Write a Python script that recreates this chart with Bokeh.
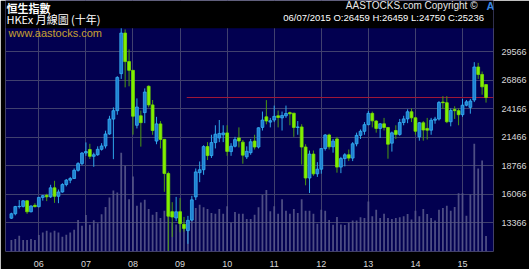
import pandas as pd
from bokeh.plotting import figure
from bokeh.models import ColumnDataSource, Range1d, FixedTicker, Label, BoxAnnotation
from bokeh.embed import file_html
from bokeh.resources import INLINE

# ---------------- data ----------------
months = [str(p) for p in pd.period_range("2005-06", "2015-07", freq="M")]

opens = [13780, 14200, 14880, 14900, 15430, 14390, 15000,
         14876, 15753, 15950, 15805, 16661, 15857, 16267, 16971, 17392, 17543, 18324, 18960,
         19965, 20300, 19650, 19801, 20318, 20635, 21773, 23185, 23984, 27500, 31352, 28643,
         27813, 22600, 23500, 23800, 26300, 24533, 21100, 22731, 21261, 18016, 14400, 13800,
         14400, 13200, 12600, 13600, 15800, 18100, 18379, 20573, 19724, 20955, 21400, 21700,
         21873, 20100, 20608, 21400, 21000, 19600, 20000, 21100, 20536, 22400, 23400, 22900,
         23100, 23500, 23300, 23500, 23800, 23750, 22398, 22441, 20535, 17592, 19864, 17989,
         18434, 20390, 21680, 20556, 21300, 18630, 19441, 19800, 19482, 20840, 21642, 22030,
         22657, 23730, 23000, 22300, 22737, 22392, 20900, 22100, 21731, 22860, 23206, 23881,
         23306, 21500, 22837, 22300, 22134, 23082, 23191, 24800, 24742, 22933, 24100, 23987,
         23605, 24507, 24300, 25000, 28133, 27424, 26459]
highs = [14300, 14950, 15500, 15500, 15500, 15000, 15200,
         15800, 15990, 16100, 16950, 17328, 16500, 17100, 17500, 17700, 18500, 19100, 20050,
         20971, 20841, 20000, 20600, 20900, 22085, 23500, 24300, 27254, 31958, 31700, 29800,
         27850, 25150, 24000, 26100, 26387, 25000, 23400, 23000, 21300, 18200, 15300, 15800,
         15700, 13900, 14000, 15900, 18500, 19161, 20700, 21000, 21700, 22600, 23100, 22600,
         22600, 20900, 21500, 22400, 21200, 20600, 21300, 21700, 22400, 23900, 24988, 23300,
         24468, 24000, 23900, 24468, 23900, 23750, 23000, 22700, 20800, 20200, 20200, 19100,
         20400, 21760, 21800, 21300, 21500, 19600, 19950, 20300, 21000, 21900, 22200, 22900,
         23950, 23900, 23100, 22800, 23300, 22400, 22000, 22600, 23200, 23500, 24111, 24200,
         23400, 22900, 23000, 23300, 23300, 23400, 24900, 25362, 25362, 24200, 24400, 24200,
         25100, 25000, 25100, 28588, 28524, 27700, 26459]
lows = [13700, 14050, 14700, 14800, 14189, 14330, 14800,
        14800, 15450, 15400, 15700, 15234, 15204, 16200, 16800, 17100, 17500, 18200, 18800,
        19700, 19400, 18659, 19700, 20200, 20400, 21700, 19386, 23600, 27000, 26200, 26300,
        21709, 22300, 20572, 22800, 24300, 21700, 20800, 20400, 16283, 10676, 12000, 13500,
        12430, 12500, 11344, 13500, 15500, 17200, 17900, 19300, 19500, 20400, 21000, 21000,
        19700, 19700, 20500, 20500, 18950, 19400, 19800, 20300, 20400, 22100, 22690, 22400,
        22900, 22400, 22100, 23300, 22600, 21500, 21700, 18868, 16900, 16170, 17800, 17700,
        18000, 20200, 20300, 20000, 18100, 18056, 18700, 19200, 19200, 20600, 21300, 21700,
        22600, 22400, 21900, 21400, 22100, 19426, 20100, 21300, 21600, 22600, 22800, 22900,
        21700, 21138, 21137, 21250, 21700, 22750, 23050, 24150, 22800, 22500, 23200, 22600,
        23400, 24400, 23700, 24800, 27000, 25500, 24750]
closes = [14201, 14880, 14903, 15429, 14386, 14937, 14876,
          15753, 15918, 15805, 16661, 15857, 16267, 16971, 17392, 17543, 18324, 18960, 19965,
          20106, 19651, 19801, 20318, 20635, 21773, 23185, 23984, 27143, 31352, 28643, 27813,
          23456, 24332, 22849, 25755, 24533, 22102, 22731, 21261, 18016, 13969, 13888, 14387,
          13278, 12811, 13576, 15521, 18171, 18379, 20573, 19724, 20955, 21753, 21822, 21873,
          20122, 20608, 21239, 21108, 19765, 20129, 21030, 20536, 22359, 23096, 23008, 23035,
          23447, 23338, 23528, 23720, 23684, 22398, 22441, 20535, 17592, 19864, 17989, 18434,
          20390, 21680, 20556, 21094, 18630, 19441, 19796, 19482, 20840, 21642, 22030, 22657,
          23730, 23020, 22300, 22737, 22392, 20803, 21883, 21731, 22860, 23206, 23881, 23306,
          22035, 22837, 22151, 22134, 23082, 23191, 24757, 24742, 22933, 23998, 23987, 23605,
          24507, 24823, 24901, 28133, 27424, 26250, 25236]
volumes = [11.7, 12.7, 16, 11.7, 11.7, 12.7, 11.7,
           16.7, 19.3, 21, 19.3, 21, 19.3, 15, 17, 19.3, 22, 32, 26,
           37, 27, 31.7, 28.7, 37.7, 45, 54.7, 61.7, 59.7, 100, 86.7, 53,
           76, 46.3, 49.7, 52.3, 43, 37.3, 40, 34, 41.3, 36.7, 29, 27.3,
           30.7, 24.7, 29, 39, 44, 47.3, 44.7, 43, 39, 38.3, 43, 38.3,
           45.7, 29, 40, 38.3, 38.3, 33, 33, 37.3, 44.7, 57.3, 62.3, 40.7,
           45.7, 38.3, 53, 41.3, 38.3, 43, 39, 53, 41.3, 41.3, 38.3, 28,
           42.3, 41.3, 32, 27, 35, 27.3, 26.7, 29, 31.3, 31.3, 34.7, 34,
           50.7, 35.7, 42.3, 34, 38.3, 34, 33, 34, 34.7, 35.7, 38, 32.3,
           41.3, 35.7, 43, 38, 34, 31.3, 42.3, 44, 46.3, 41.3, 45, 59,
           59, 36.3, 58, 109, 84, 92, 15.7]

year_ticks = [2006, 2007, 2008, 2009, 2010, 2011, 2012, 2013, 2014, 2015]
year_labels = ["06", "07", "08", "09", "10", "11", "12", "13", "14", "15"]
price_ticks = [13366, 16066, 18766, 21466, 24166, 26866, 29566]
price_floor, price_ceiling = 10618, 31817   # visible price window of the chart area
ref_level = 25236
ref_start = "2009-02"

title_main = "恒生指數"
title_sub = "HKEx 月線圖 (十年)"
watermark = "www.aastocks.com"
copyright_txt = "AASTOCKS.com Copyright ©"
ohlc_txt = "06/07/2015  O:26459  H:26459  L:24750  C:25236"

# ---------------- helpers ----------------
def midx(m):
    y, mo = m.split("-")
    return (int(y) - 2006) * 12 + int(mo) - 1

t = [midx(m) for m in months]
up = [c >= o for o, c in zip(opens, closes)]
src = ColumnDataSource(dict(
    t=t, o=opens, h=highs, l=lows, c=closes, v=volumes,
    top=[max(o, c) for o, c in zip(opens, closes)],
    bot=[min(o, c) for o, c in zip(opens, closes)],
    fill=["#1f80d2" if u else "#80f000" for u in up],
    line=["#36b0f2" if u else "#78e000" for u in up],
    wick=["#2ea6ea" if u else "#4c9a10" for u in up],
))

# header band sits inside the frame (above price_ceiling) so texts are not clipped
header_span = 28 * (price_ceiling - price_floor) / 226.0
x0, x1 = -8.5, 115.9
p = figure(width=529, height=269, output_backend="svg", toolbar_location=None,
           x_range=Range1d(x0, x1), y_range=Range1d(price_floor, price_ceiling + header_span),
           y_axis_location="right",
           background_fill_color="#020050", border_fill_color="#000000",
           outline_line_color=None,
           min_border_left=5, min_border_right=34, min_border_top=0, min_border_bottom=15)
p.extra_y_ranges = {"vol": Range1d(0, 226 + 28)}

# axes
p.xaxis.ticker = FixedTicker(ticks=[(y - 2006) * 12 for y in year_ticks])
p.xaxis.major_label_overrides = {(y - 2006) * 12: lab for y, lab in zip(year_ticks, year_labels)}
p.yaxis.ticker = FixedTicker(ticks=price_ticks)
for ax in (p.xaxis, p.yaxis):
    ax.axis_line_color = None
    ax.major_tick_line_color = None
    ax.minor_tick_line_color = None
    ax.major_label_text_color = "#d8d8d8"
    ax.major_label_text_font = "Liberation Sans"
    ax.major_label_text_font_size = "9px"
p.xaxis.major_label_standoff = 3
p.yaxis.major_label_standoff = 2
p.yaxis.formatter.use_scientific = False
p.grid.grid_line_color = "#40406e"
p.grid.grid_line_width = 1

# volume
p.vbar(x="t", top="v", bottom=0, width=0.45, source=src, y_range_name="vol",
       fill_color="#56568a", line_color=None, fill_alpha=0.9)

# reference line
p.segment(x0=[midx(ref_start) + 0.7], y0=[ref_level], x1=[x1], y1=[ref_level],
          line_color="#a01838", line_width=1)

# candles
p.segment(x0="t", y0="l", x1="t", y1="h", line_color="wick", line_width=1, source=src)
p.vbar(x="t", top="top", bottom="bot", width=0.72, fill_color="fill", line_color="line",
       line_width=0.8, source=src)

# black header band
p.add_layout(BoxAnnotation(bottom=price_ceiling, fill_color="#000000", fill_alpha=1.0,
                           line_color=None))

# texts
def lab(txt, x, y, size, color, font="Liberation Sans", style="normal", align="left"):
    p.add_layout(Label(x=x, y=y, x_units="screen", y_units="screen", text=txt,
                       text_font=font, text_font_size=size, text_color=color,
                       text_font_style=style, text_align=align, text_baseline="middle"))

lab(title_main, 1, 244, "11px", "#ffffff", font="Noto Sans CJK TC", style="bold")
lab(title_sub, 1, 233, "11px", "#ffffff", font="Noto Sans CJK TC")
lab(watermark, 3, 219, "11px", "#c8a030")
lab(copyright_txt, 472, 246, "10px", "#e8e8e8", align="right")
lab("A", 481, 246, "11px", "#3a86e0", style="bold")
lab(ohlc_txt, 489, 234, "9.5px", "#ffffff", align="right")

open("out.html", "w").write(file_html(p, INLINE))
